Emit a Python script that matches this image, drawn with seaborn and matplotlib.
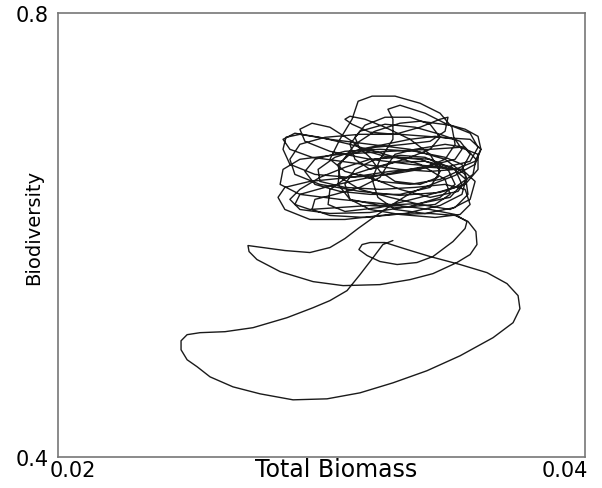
import matplotlib
matplotlib.use("Agg")
import matplotlib.pyplot as plt
from matplotlib.transforms import ScaledTranslation
import seaborn as sns
import pandas as pd

# Trajectory (in drawing order)
biomass = [
    # transient: start, big lower loop, small loop
    0.03271, 0.03233, 0.03196, 0.03146, 0.03097, 0.03032, 0.02968, 0.02869, 0.02740, 0.02634,
    0.02539, 0.02490, 0.02467, 0.02467, 0.02490, 0.02528, 0.02577, 0.02664, 0.02767, 0.02892,
    0.03021, 0.03146, 0.03271, 0.03400, 0.03526, 0.03651, 0.03727, 0.03753, 0.03746, 0.03704,
    0.03628, 0.03526, 0.03412, 0.03325, 0.03241, 0.03184, 0.03154, 0.03142, 0.03173, 0.03222,
    0.03287, 0.03362, 0.03423, 0.03499, 0.03545, 0.03552, 0.03507,
    # loop A
    0.03412, 0.03260, 0.03070, 0.02918, 0.02843, 0.02854, 0.02918, 0.03070, 0.03260, 0.03412,
    0.03526, 0.03594, 0.03594, 0.03545, 0.03450,
    # loop B
    0.03298, 0.03146, 0.02994, 0.02899, 0.02880, 0.02918, 0.03013, 0.03146, 0.03298, 0.03450,
    0.03564, 0.03605, 0.03583, 0.03507,
    # descent to the left loop
    0.03419, 0.03343, 0.03287, 0.03241, 0.03192, 0.03139, 0.03089, 0.03032, 0.02956, 0.02861,
    0.02778, 0.02721, 0.02725, 0.02755, 0.02843, 0.02968, 0.03082, 0.03222, 0.03336, 0.03423,
    0.03514, 0.03564, 0.03590, 0.03586, 0.03556, 0.03507,
    # loop E
    0.03412, 0.03260, 0.03089, 0.02956, 0.02861, 0.02835, 0.02861, 0.02956, 0.03108, 0.03260,
    0.03412, 0.03533, 0.03583, 0.03564, 0.03488, 0.03374,
    # loop F
    0.03260, 0.03146, 0.03070, 0.03063, 0.03108, 0.03203, 0.03317, 0.03412, 0.03469, 0.03480,
    0.03450, 0.03374, 0.03279, 0.03184, 0.03116, 0.03089, 0.03108, 0.03165, 0.03241, 0.03336,
    0.03412, 0.03450, 0.03412, 0.03298,
    # loop G
    0.03184, 0.03070, 0.02975, 0.02937, 0.02975, 0.03089, 0.03222, 0.03355, 0.03469, 0.03533,
    0.03552, 0.03518, 0.03412,
    # loop C
    0.03298, 0.03203, 0.03089, 0.03032, 0.03070, 0.03116, 0.03139, 0.03192, 0.03279, 0.03374,
    0.03450, 0.03495, 0.03507, 0.03469, 0.03374,
    # loop D
    0.03260, 0.03108, 0.02975, 0.02880, 0.02854, 0.02865, 0.02918, 0.03032, 0.03184, 0.03336,
    0.03469, 0.03545, 0.03556, 0.03507, 0.03393,
    # loop H
    0.03279, 0.03214, 0.03192, 0.03222, 0.03271, 0.03271, 0.03252, 0.03298, 0.03393, 0.03476,
    0.03545, 0.03594, 0.03605, 0.03583, 0.03507, 0.03412,
    # loop I
    0.03298, 0.03184, 0.03070, 0.02964, 0.02880, 0.02854, 0.02899, 0.02994, 0.03108, 0.03241,
    0.03374, 0.03469, 0.03488, 0.03431, 0.03298,
    # loop J
    0.03184, 0.03070, 0.02956, 0.02899, 0.02918, 0.03013, 0.03146, 0.03298, 0.03431, 0.03507,
    0.03533, 0.03507, 0.03431, 0.03336,
    # loop K
    0.03241, 0.03146, 0.03051, 0.02987, 0.02994, 0.03089, 0.03222, 0.03355, 0.03469, 0.03545,
    0.03564, 0.03526, 0.03431, 0.03298,
    # loop L
    0.03184, 0.03108, 0.03089, 0.03127, 0.03203, 0.03298, 0.03393, 0.03450, 0.03442, 0.03374,
    0.03279, 0.03222,
    # loop M
    0.03184, 0.03116, 0.03032, 0.02964, 0.02918, 0.02937, 0.03032, 0.03184, 0.03336, 0.03469,
    0.03564, 0.03594, 0.03564, 0.03488, 0.03374, 0.03298,
    # loop N
    0.03203, 0.03127, 0.03070, 0.03063, 0.03108, 0.03222, 0.03374, 0.03488, 0.03533, 0.03507,
    0.03412, 0.03298, 0.03184, 0.03089,
    # loop O
    0.02994, 0.02918, 0.02880, 0.02918, 0.03032, 0.03184, 0.03336, 0.03450, 0.03507, 0.03480,
    0.03374, 0.03241, 0.03146, 0.03127, 0.03165, 0.03241, 0.03336, 0.03412,
    # loop P
    0.03450, 0.03412, 0.03317, 0.03203, 0.03108, 0.03032, 0.03025, 0.03089, 0.03222, 0.03374,
    0.03507, 0.03575, 0.03586, 0.03545, 0.03469, 0.03355, 0.03279, 0.03252,
    # loop Q
    0.03222, 0.03146, 0.03051, 0.02975, 0.02964, 0.03032, 0.03165, 0.03317, 0.03450, 0.03533,
    0.03548, 0.03495, 0.03393, 0.03279, 0.03184,
    # loop R
    0.03127, 0.03108, 0.03146, 0.03241, 0.03355, 0.03450, 0.03526, 0.03564, 0.03533, 0.03450,
    0.03336, 0.03222, 0.03146,
]

biodiversity = [
    # transient
    0.5950, 0.5914, 0.5797, 0.5643, 0.5499, 0.5409, 0.5345, 0.5255, 0.5165, 0.5129,
    0.5120, 0.5102, 0.5047, 0.4966, 0.4876, 0.4813, 0.4722, 0.4632, 0.4569, 0.4515,
    0.4524, 0.4578, 0.4668, 0.4777, 0.4912, 0.5075, 0.5210, 0.5336, 0.5454, 0.5562,
    0.5661, 0.5734, 0.5806, 0.5869, 0.5932, 0.5932, 0.5914, 0.5869, 0.5815, 0.5761,
    0.5734, 0.5752, 0.5806, 0.5941, 0.6059, 0.6122, 0.6185,
    # loop A
    0.6230, 0.6275, 0.6321, 0.6366, 0.6456, 0.6591, 0.6682, 0.6727, 0.6754, 0.6772,
    0.6790, 0.6727, 0.6591, 0.6456, 0.6384,
    # loop B
    0.6357, 0.6393, 0.6456, 0.6546, 0.6682, 0.6817, 0.6880, 0.6907, 0.6907, 0.6880,
    0.6862, 0.6772, 0.6637, 0.6537,
    # descent
    0.6456, 0.6384, 0.6302, 0.6230, 0.6149, 0.6059, 0.5968, 0.5887, 0.5842, 0.5860,
    0.5887, 0.5905, 0.5851, 0.5779, 0.5670, 0.5580, 0.5544, 0.5553, 0.5598, 0.5652,
    0.5752, 0.5824, 0.5914, 0.6032, 0.6122, 0.6176,
    # loop E
    0.6194, 0.6185, 0.6140, 0.6140, 0.6230, 0.6339, 0.6429, 0.6483, 0.6519, 0.6573,
    0.6610, 0.6591, 0.6483, 0.6321, 0.6230, 0.6275,
    # loop F
    0.6339, 0.6411, 0.6519, 0.6637, 0.6727, 0.6790, 0.6817, 0.6844, 0.6935, 0.7061,
    0.7043, 0.6971, 0.6907, 0.6926, 0.6998, 0.7043, 0.7070, 0.7043, 0.6971, 0.6862,
    0.6727, 0.6573, 0.6429, 0.6366,
    # loop G
    0.6366, 0.6393, 0.6456, 0.6573, 0.6682, 0.6754, 0.6772, 0.6754, 0.6700, 0.6637,
    0.6501, 0.6393, 0.6339,
    # loop C
    0.6411, 0.6501, 0.6573, 0.6682, 0.6862, 0.7043, 0.7205, 0.7251, 0.7251, 0.7187,
    0.7097, 0.6971, 0.6817, 0.6682, 0.6591,
    # loop D
    0.6546, 0.6519, 0.6546, 0.6637, 0.6772, 0.6880, 0.6907, 0.6862, 0.6817, 0.6772,
    0.6682, 0.6546, 0.6366, 0.6248, 0.6194,
    # loop H
    0.6230, 0.6339, 0.6501, 0.6682, 0.6862, 0.7043, 0.7133, 0.7169, 0.7097, 0.6998,
    0.6953, 0.6889, 0.6772, 0.6664, 0.6591, 0.6573,
    # loop I
    0.6591, 0.6628, 0.6664, 0.6700, 0.6772, 0.6862, 0.6917, 0.6880, 0.6817, 0.6727,
    0.6637, 0.6501, 0.6366, 0.6275, 0.6248,
    # loop J
    0.6266, 0.6248, 0.6230, 0.6275, 0.6366, 0.6429, 0.6501, 0.6573, 0.6637, 0.6682,
    0.6772, 0.6862, 0.6889, 0.6862,
    # loop K
    0.6817, 0.6772, 0.6700, 0.6591, 0.6483, 0.6429, 0.6411, 0.6429, 0.6456, 0.6411,
    0.6275, 0.6185, 0.6158, 0.6185,
    # loop L
    0.6230, 0.6321, 0.6456, 0.6591, 0.6682, 0.6718, 0.6700, 0.6637, 0.6519, 0.6456,
    0.6483, 0.6573,
    # loop M
    0.6700, 0.6844, 0.6971, 0.7007, 0.6953, 0.6844, 0.6754, 0.6682, 0.6637, 0.6610,
    0.6664, 0.6790, 0.6917, 0.6989, 0.7025, 0.7007,
    # loop N
    0.6935, 0.6817, 0.6637, 0.6456, 0.6321, 0.6266, 0.6284, 0.6339, 0.6456, 0.6591,
    0.6682, 0.6700, 0.6682, 0.6610,
    # loop O
    0.6519, 0.6411, 0.6321, 0.6230, 0.6194, 0.6203, 0.6257, 0.6339, 0.6456, 0.6591,
    0.6682, 0.6709, 0.6772, 0.6880, 0.6989, 0.7061, 0.7061, 0.6998,
    # loop P
    0.6880, 0.6772, 0.6682, 0.6610, 0.6537, 0.6411, 0.6275, 0.6212, 0.6248, 0.6339,
    0.6429, 0.6546, 0.6682, 0.6790, 0.6817, 0.6772, 0.6727, 0.6637,
    # loop Q
    0.6519, 0.6429, 0.6366, 0.6321, 0.6230, 0.6176, 0.6158, 0.6194, 0.6266, 0.6366,
    0.6501, 0.6610, 0.6664, 0.6655, 0.6591,
    # loop R
    0.6682, 0.6817, 0.6935, 0.6998, 0.6971, 0.6907, 0.6844, 0.6727, 0.6591, 0.6501,
    0.6456, 0.6483, 0.6546,
]

x_ticks = [0.02, 0.04]
x_tick_labels = ["0.02", "0.04"]
y_ticks = [0.4, 0.8]
y_tick_labels = ["0.4", "0.8"]
x_label = "Total Biomass"
y_label = "Biodiversity"

sns.set_theme(style="white")
plt.rcParams["font.family"] = ["DejaVu Sans"]
plt.rcParams["text.color"] = "black"
plt.rcParams["axes.labelcolor"] = "black"
plt.rcParams["xtick.color"] = "black"
plt.rcParams["ytick.color"] = "black"

fig = plt.figure(figsize=(6.02, 4.89), dpi=100)
ax = fig.add_axes([58 / 602, 1 - 458 / 489, 527 / 602, 444 / 489])

df = pd.DataFrame({
    "step": list(range(len(biomass))),
    "Total Biomass": biomass,
    "Biodiversity": biodiversity,
})
sns.lineplot(data=df, x="Total Biomass", y="Biodiversity", sort=False,
             estimator=None, color="#1a1a1a", linewidth=1.0, ax=ax)

ax.set_xlim(0.02, 0.04)
ax.set_ylim(0.4, 0.8)
ax.set_xticks(x_ticks)
ax.set_xticklabels(x_tick_labels, fontsize=15)
ax.set_yticks(y_ticks)
ax.set_yticklabels(y_tick_labels, fontsize=15)
ax.tick_params(axis="x", length=0, pad=2, labelcolor="black")
ax.tick_params(axis="y", length=0, pad=7, labelcolor="black")
xl = ax.get_xticklabels()
xl[0].set_horizontalalignment("left")
xl[0].set_transform(xl[0].get_transform() + ScaledTranslation(-0.08, 0, fig.dpi_scale_trans))
xl[1].set_horizontalalignment("right")
xl[1].set_transform(xl[1].get_transform() + ScaledTranslation(0.03, 0, fig.dpi_scale_trans))

ax.set_xlabel(x_label, fontsize=17, color="black")
ax.set_ylabel(y_label, fontsize=14, color="black")
ax.xaxis.set_label_coords(0.527, 0.0)
ax.yaxis.set_label_coords(-0.029, 0.52)

for s in ax.spines.values():
    s.set_color("#777777")
    s.set_linewidth(1.2)

fig.savefig("out.png", dpi=100)
